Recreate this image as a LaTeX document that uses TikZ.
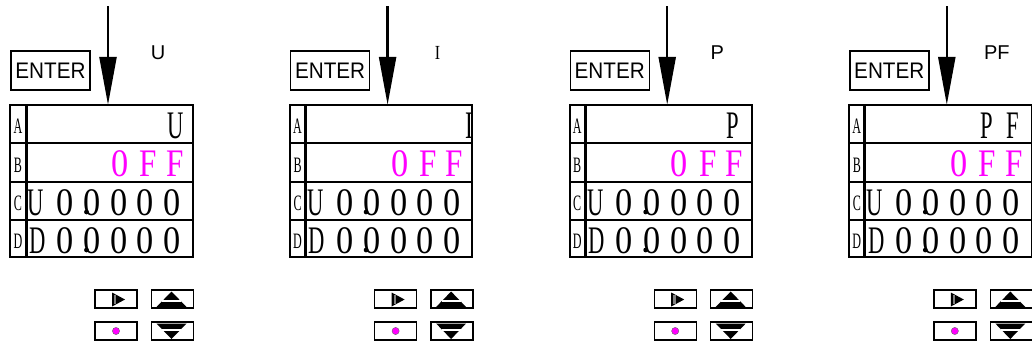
\documentclass[tikz,border=0pt]{standalone}
\usepackage{fontspec}
\setmainfont{Liberation Serif}
\newfontfamily\sansf{Liberation Sans}
\usetikzlibrary{arrows.meta}
\definecolor{mag}{RGB}{255,0,255}
\tikzset{
  enterbox/.style={draw, line width=1.4pt, inner sep=0pt, minimum width=79pt, minimum height=39pt, font=\sansf\fontsize{22.5}{22.5}\selectfont},
  toplab/.style={inner sep=0pt, font=\sansf\fontsize{20}{20}\selectfont},
  disp/.style={inner sep=0pt, minimum width=182pt, minimum height=152pt},
  ch/.style={anchor=base, inner sep=0pt, font=\fontsize{39}{39}\selectfont},
  rowlab/.style={anchor=base, inner sep=0pt, font=\fontsize{22}{22}\selectfont},
  btn/.style={draw, line width=1.4pt, inner sep=0pt, minimum width=42pt, minimum height=18pt},
  feed/.style={line width=2.4pt, -{Triangle[length=48pt,width=17pt]}},
  grid/.style={line width=2pt},
}
\newcommand{\nar}[2]{\scalebox{#1}[1]{#2}}
\newcommand{\dg}{\nar{0.88}{0}}
\begin{document}
\begin{tikzpicture}[x=1pt,y=-1pt]
\useasboundingbox (0,0) rectangle (1032,346);
\foreach \i/\tl in {1/{\sansf U},2/{\rmfamily\fontsize{20}{20}\selectfont\nar{0.8}{I}},3/{\sansf P},4/{\sansf PF}}{
\begin{scope}[shift={({279.6*(\i-1)},0)}]
  \node[enterbox] (enter\i) at (50.5,70.5) {\nar{0.92}{ENTER}};
  \node[toplab] (lab\i) at (158,53) {\tl};
  \coordinate (top\i) at (108,6);
  \node[disp] (disp\i) at (101.5,181) {};
  \draw[feed] (top\i) -- (top\i |- disp\i.north);
  % grid
  \draw[grid] (disp\i.north west) rectangle (disp\i.south east);
  \draw[grid] (disp\i.west |- 0,143) -- (disp\i.east |- 0,143);
  \draw[grid] (disp\i.west |- 0,181.5) -- (disp\i.east |- 0,181.5);
  \draw[grid] (disp\i.west |- 0,219.5) -- (disp\i.east |- 0,219.5);
  \draw[line width=3pt] (26,105) -- (26,257);
  % row labels
  \node[rowlab] (ra\i) at (18,133.5) {\nar{0.55}{A}};
  \node[rowlab] (rb\i) at (18,172) {\nar{0.55}{B}};
  \node[rowlab] (rc\i) at (18,210.5) {\nar{0.55}{C}};
  \node[rowlab] (rd\i) at (18,248.5) {\nar{0.55}{D}};
  % row B
  \node[ch, text=mag] (b1\i) at (120,176) {\dg};
  \node[ch, text=mag] (b2\i) at (148.5,176) {\nar{0.8}{F}};
  \node[ch, text=mag] (b3\i) at (175,176) {\nar{0.8}{F}};
  % row C
  \node[ch] (c0\i) at (36,215) {\nar{0.58}{U}};
  \node[ch] (c1\i) at (65,215) {\dg};
  \node[ch] (c2\i) at (92.5,215) {\dg};
  \node[ch] (c3\i) at (119.5,215) {\dg};
  \node[ch] (c4\i) at (145.5,215) {\dg};
  \node[ch] (c5\i) at (172.5,215) {\dg};
  \fill (86.5,212) circle (2.4);
  % row D
  \node[ch] (d0\i) at (37.5,253) {\nar{0.58}{D}};
  \node[ch] (d1\i) at (65,253) {\dg};
  \node[ch] (d2\i) at (92.5,253) {\dg};
  \node[ch] (d3\i) at (119.5,253) {\dg};
  \node[ch] (d4\i) at (145.5,253) {\dg};
  \node[ch] (d5\i) at (172.5,253) {\dg};
  \fill (86.5,250) circle (2.4);
  % buttons
  \node[btn] (right\i) at (116,299) {};
  \node[btn] (up\i) at (172.5,299) {};
  \node[btn] (ok\i) at (116,331) {};
  \node[btn] (down\i) at (172.5,331) {};
  \fill (112,292.5) -- (125,299.5) -- (112,306.5) -- cycle;
  \draw[gray, line width=2.4pt] (115.2,295) -- (115.2,304);
  \fill (171.5,291.5) -- (186.5,307) -- (156.5,307) -- cycle;
  \draw[white, line width=1.3pt] (162,301) -- (181,301);
  \fill (156.5,323.5) -- (186.5,323.5) -- (171.5,339) -- cycle;
  \draw[white, line width=1.3pt] (162,330) -- (181,330);
  \fill[mag, draw=black!60, line width=0.4pt] (116,331) circle (3.6);
\end{scope}
}
% row A contents
\node[ch] (a1) at (176,138) {\nar{0.58}{U}};
\node[ch] (a2) at ({279.6+190},138) {\nar{0.6}{I}};
\node[ch] (a3) at ({559.2+174},138) {\nar{0.58}{P}};
\node[ch] (a4p) at ({838.8+148},138) {\nar{0.58}{P}};
\node[ch] (a4f) at ({838.8+174},138) {\nar{0.58}{F}};
\end{tikzpicture}
\end{document}
